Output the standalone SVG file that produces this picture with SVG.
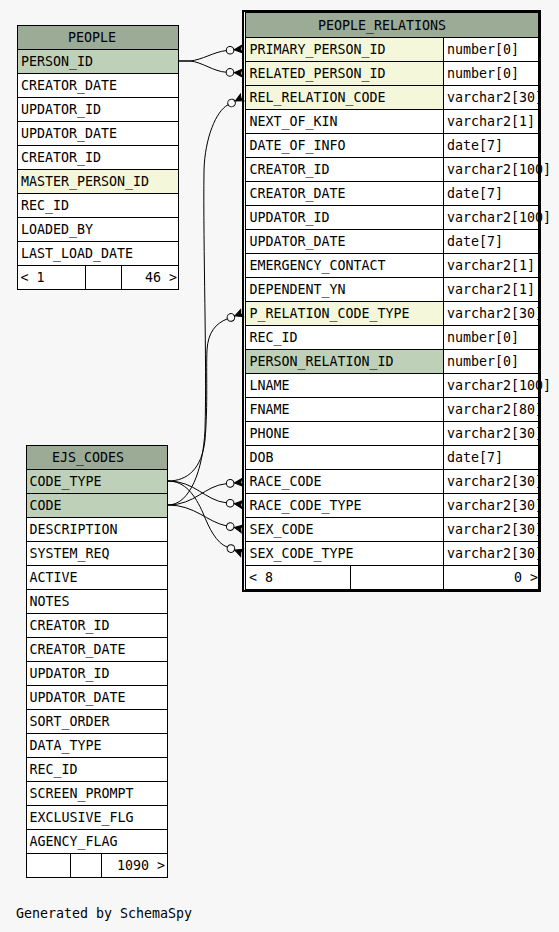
<svg xmlns="http://www.w3.org/2000/svg" width="559" height="932" viewBox="0 0 559 932">
<style>
.c{fill:#ffffff;stroke:#000;stroke-width:1}
.hd{fill:#9bab96;stroke:#000;stroke-width:1}
.pk{fill:#bed1b8;stroke:#000;stroke-width:1}
.fk{fill:#f4f7da;stroke:#000;stroke-width:1}
text{font-family:"DejaVu Sans Mono","Liberation Mono",monospace;font-size:13.3px;fill:#000}
.e{fill:none;stroke:#000;stroke-width:1;marker-end:url(#crowodot)}
.r{text-anchor:end}
</style>
<defs>
<marker id="crowodot" viewBox="0 -5 17 10" refX="0" refY="0" markerWidth="17" markerHeight="10" markerUnits="userSpaceOnUse" orient="auto" overflow="visible">
<circle cx="4" cy="0" r="3.8" fill="#f7f7f7" stroke="#000" stroke-width="1"/>
<polygon points="8.2,0 16,-3.8 14.6,0 16,3.8" fill="#000" stroke="#000" stroke-width="1"/>
</marker>
</defs>
<rect x="0" y="0" width="559" height="932" fill="#f7f7f7"/>

<g id="people">
<rect class="hd" x="17.5" y="25.5" width="161" height="24"/>
<text x="68" y="41.5">PEOPLE</text>
<rect class="pk" x="17.5" y="49.5" width="161" height="24"/><text x="21" y="65.5">PERSON_ID</text>
<rect class="c" x="17.5" y="73.5" width="161" height="24"/><text x="21" y="89.5">CREATOR_DATE</text>
<rect class="c" x="17.5" y="97.5" width="161" height="24"/><text x="21" y="113.5">UPDATOR_ID</text>
<rect class="c" x="17.5" y="121.5" width="161" height="24"/><text x="21" y="137.5">UPDATOR_DATE</text>
<rect class="c" x="17.5" y="145.5" width="161" height="24"/><text x="21" y="161.5">CREATOR_ID</text>
<rect class="fk" x="17.5" y="169.5" width="161" height="24"/><text x="21" y="185.5">MASTER_PERSON_ID</text>
<rect class="c" x="17.5" y="193.5" width="161" height="24"/><text x="21" y="209.5">REC_ID</text>
<rect class="c" x="17.5" y="217.5" width="161" height="24"/><text x="21" y="233.5">LOADED_BY</text>
<rect class="c" x="17.5" y="241.5" width="161" height="24"/><text x="21" y="257.5">LAST_LOAD_DATE</text>
<rect class="c" x="17.5" y="265.5" width="68" height="24"/>
<rect class="c" x="85.5" y="265.5" width="36" height="24"/>
<rect class="c" x="121.5" y="265.5" width="57" height="24"/>
<text x="20.5" y="281.5">&lt; 1</text>
<text class="r" x="177" y="281.5">46 &gt;</text>
</g>

<g id="people_relations">
<rect class="hd" x="245.5" y="12.5" width="293" height="25"/>
<text x="318" y="29.5">PEOPLE_RELATIONS</text>
<rect class="fk" x="245.5" y="37.5" width="198" height="24"/><rect class="c" x="443.5" y="37.5" width="95" height="24"/>
<text x="249.5" y="53.5">PRIMARY_PERSON_ID</text><text x="447" y="53.5">number[0]</text>
<rect class="fk" x="245.5" y="61.5" width="198" height="24"/><rect class="c" x="443.5" y="61.5" width="95" height="24"/>
<text x="249.5" y="77.5">RELATED_PERSON_ID</text><text x="447" y="77.5">number[0]</text>
<rect class="fk" x="245.5" y="85.5" width="198" height="24"/><rect class="c" x="443.5" y="85.5" width="95" height="24"/>
<text x="249.5" y="101.5">REL_RELATION_CODE</text><text x="447" y="101.5">varchar2[30]</text>
<rect class="c" x="245.5" y="109.5" width="198" height="24"/><rect class="c" x="443.5" y="109.5" width="95" height="24"/>
<text x="249.5" y="125.5">NEXT_OF_KIN</text><text x="447" y="125.5">varchar2[1]</text>
<rect class="c" x="245.5" y="133.5" width="198" height="24"/><rect class="c" x="443.5" y="133.5" width="95" height="24"/>
<text x="249.5" y="149.5">DATE_OF_INFO</text><text x="447" y="149.5">date[7]</text>
<rect class="c" x="245.5" y="157.5" width="198" height="24"/><rect class="c" x="443.5" y="157.5" width="95" height="24"/>
<text x="249.5" y="173.5">CREATOR_ID</text><text x="447" y="173.5">varchar2[100]</text>
<rect class="c" x="245.5" y="181.5" width="198" height="24"/><rect class="c" x="443.5" y="181.5" width="95" height="24"/>
<text x="249.5" y="197.5">CREATOR_DATE</text><text x="447" y="197.5">date[7]</text>
<rect class="c" x="245.5" y="205.5" width="198" height="24"/><rect class="c" x="443.5" y="205.5" width="95" height="24"/>
<text x="249.5" y="221.5">UPDATOR_ID</text><text x="447" y="221.5">varchar2[100]</text>
<rect class="c" x="245.5" y="229.5" width="198" height="24"/><rect class="c" x="443.5" y="229.5" width="95" height="24"/>
<text x="249.5" y="245.5">UPDATOR_DATE</text><text x="447" y="245.5">date[7]</text>
<rect class="c" x="245.5" y="253.5" width="198" height="24"/><rect class="c" x="443.5" y="253.5" width="95" height="24"/>
<text x="249.5" y="269.5">EMERGENCY_CONTACT</text><text x="447" y="269.5">varchar2[1]</text>
<rect class="c" x="245.5" y="277.5" width="198" height="24"/><rect class="c" x="443.5" y="277.5" width="95" height="24"/>
<text x="249.5" y="293.5">DEPENDENT_YN</text><text x="447" y="293.5">varchar2[1]</text>
<rect class="fk" x="245.5" y="301.5" width="198" height="24"/><rect class="c" x="443.5" y="301.5" width="95" height="24"/>
<text x="249.5" y="317.5">P_RELATION_CODE_TYPE</text><text x="447" y="317.5">varchar2[30]</text>
<rect class="c" x="245.5" y="325.5" width="198" height="24"/><rect class="c" x="443.5" y="325.5" width="95" height="24"/>
<text x="249.5" y="341.5">REC_ID</text><text x="447" y="341.5">number[0]</text>
<rect class="pk" x="245.5" y="349.5" width="198" height="24"/><rect class="c" x="443.5" y="349.5" width="95" height="24"/>
<text x="249.5" y="365.5">PERSON_RELATION_ID</text><text x="447" y="365.5">number[0]</text>
<rect class="c" x="245.5" y="373.5" width="198" height="24"/><rect class="c" x="443.5" y="373.5" width="95" height="24"/>
<text x="249.5" y="389.5">LNAME</text><text x="447" y="389.5">varchar2[100]</text>
<rect class="c" x="245.5" y="397.5" width="198" height="24"/><rect class="c" x="443.5" y="397.5" width="95" height="24"/>
<text x="249.5" y="413.5">FNAME</text><text x="447" y="413.5">varchar2[80]</text>
<rect class="c" x="245.5" y="421.5" width="198" height="24"/><rect class="c" x="443.5" y="421.5" width="95" height="24"/>
<text x="249.5" y="437.5">PHONE</text><text x="447" y="437.5">varchar2[30]</text>
<rect class="c" x="245.5" y="445.5" width="198" height="24"/><rect class="c" x="443.5" y="445.5" width="95" height="24"/>
<text x="249.5" y="461.5">DOB</text><text x="447" y="461.5">date[7]</text>
<rect class="c" x="245.5" y="469.5" width="198" height="24"/><rect class="c" x="443.5" y="469.5" width="95" height="24"/>
<text x="249.5" y="485.5">RACE_CODE</text><text x="447" y="485.5">varchar2[30]</text>
<rect class="c" x="245.5" y="493.5" width="198" height="24"/><rect class="c" x="443.5" y="493.5" width="95" height="24"/>
<text x="249.5" y="509.5">RACE_CODE_TYPE</text><text x="447" y="509.5">varchar2[30]</text>
<rect class="c" x="245.5" y="517.5" width="198" height="24"/><rect class="c" x="443.5" y="517.5" width="95" height="24"/>
<text x="249.5" y="533.5">SEX_CODE</text><text x="447" y="533.5">varchar2[30]</text>
<rect class="c" x="245.5" y="541.5" width="198" height="24"/><rect class="c" x="443.5" y="541.5" width="95" height="24"/>
<text x="249.5" y="557.5">SEX_CODE_TYPE</text><text x="447" y="557.5">varchar2[30]</text>
<rect class="c" x="245.5" y="565.5" width="105" height="24"/>
<rect class="c" x="350.5" y="565.5" width="93" height="24"/>
<rect class="c" x="443.5" y="565.5" width="95" height="24"/>
<text x="249" y="581.5">&lt; 8</text>
<text class="r" x="538" y="581.5">0 &gt;</text>
<rect x="243" y="11" width="297" height="580" fill="none" stroke="#000" stroke-width="2"/>
</g>

<g id="ejs_codes">
<rect class="hd" x="26.5" y="445.5" width="141" height="24"/>
<text x="52" y="461.5">EJS_CODES</text>
<rect class="pk" x="26.5" y="469.5" width="141" height="24"/><text x="29.5" y="485.5">CODE_TYPE</text>
<rect class="pk" x="26.5" y="493.5" width="141" height="24"/><text x="29.5" y="509.5">CODE</text>
<rect class="c" x="26.5" y="517.5" width="141" height="24"/><text x="29.5" y="533.5">DESCRIPTION</text>
<rect class="c" x="26.5" y="541.5" width="141" height="24"/><text x="29.5" y="557.5">SYSTEM_REQ</text>
<rect class="c" x="26.5" y="565.5" width="141" height="24"/><text x="29.5" y="581.5">ACTIVE</text>
<rect class="c" x="26.5" y="589.5" width="141" height="24"/><text x="29.5" y="605.5">NOTES</text>
<rect class="c" x="26.5" y="613.5" width="141" height="24"/><text x="29.5" y="629.5">CREATOR_ID</text>
<rect class="c" x="26.5" y="637.5" width="141" height="24"/><text x="29.5" y="653.5">CREATOR_DATE</text>
<rect class="c" x="26.5" y="661.5" width="141" height="24"/><text x="29.5" y="677.5">UPDATOR_ID</text>
<rect class="c" x="26.5" y="685.5" width="141" height="24"/><text x="29.5" y="701.5">UPDATOR_DATE</text>
<rect class="c" x="26.5" y="709.5" width="141" height="24"/><text x="29.5" y="725.5">SORT_ORDER</text>
<rect class="c" x="26.5" y="733.5" width="141" height="24"/><text x="29.5" y="749.5">DATA_TYPE</text>
<rect class="c" x="26.5" y="757.5" width="141" height="24"/><text x="29.5" y="773.5">REC_ID</text>
<rect class="c" x="26.5" y="781.5" width="141" height="24"/><text x="29.5" y="797.5">SCREEN_PROMPT</text>
<rect class="c" x="26.5" y="805.5" width="141" height="24"/><text x="29.5" y="821.5">EXCLUSIVE_FLG</text>
<rect class="c" x="26.5" y="829.5" width="141" height="24"/><text x="29.5" y="845.5">AGENCY_FLAG</text>
<rect class="c" x="26.5" y="853.5" width="44" height="24"/>
<rect class="c" x="70.5" y="853.5" width="31" height="24"/>
<rect class="c" x="101.5" y="853.5" width="66" height="24"/>
<text class="r" x="165" y="869.5">1090 &gt;</text>
</g>

<g id="connectors">
<path class="e" d="M178,61 L190,61 C202,60 214,51.8 226.1,50.6"/>
<path class="e" d="M178,61 L190,61 C202,62 214,71.6 226,72.2"/>
<path class="e" d="M168,505 C190,505 203,470 205,430 C207,360 203,250 204,170 C205,138 216,111 228,104.8"/>
<path class="e" d="M168,481 C188,481 202,468 205,440 C208,405 206,370 207,350 C208,332 216,323.3 227.2,318.9"/>
<path class="e" d="M168,505 C195,505 205,485.5 226.2,483.7"/>
<path class="e" d="M168,481 C195,481 205,500.5 226.2,502.8"/>
<path class="e" d="M168,505 C195,505 207,522 226.3,525.8"/>
<path class="e" d="M168,481 C185,481 195,495 203,513 C209,528 216,542.7 227.2,547.1"/>
</g>

<text x="16" y="918">Generated by SchemaSpy</text>
</svg>
